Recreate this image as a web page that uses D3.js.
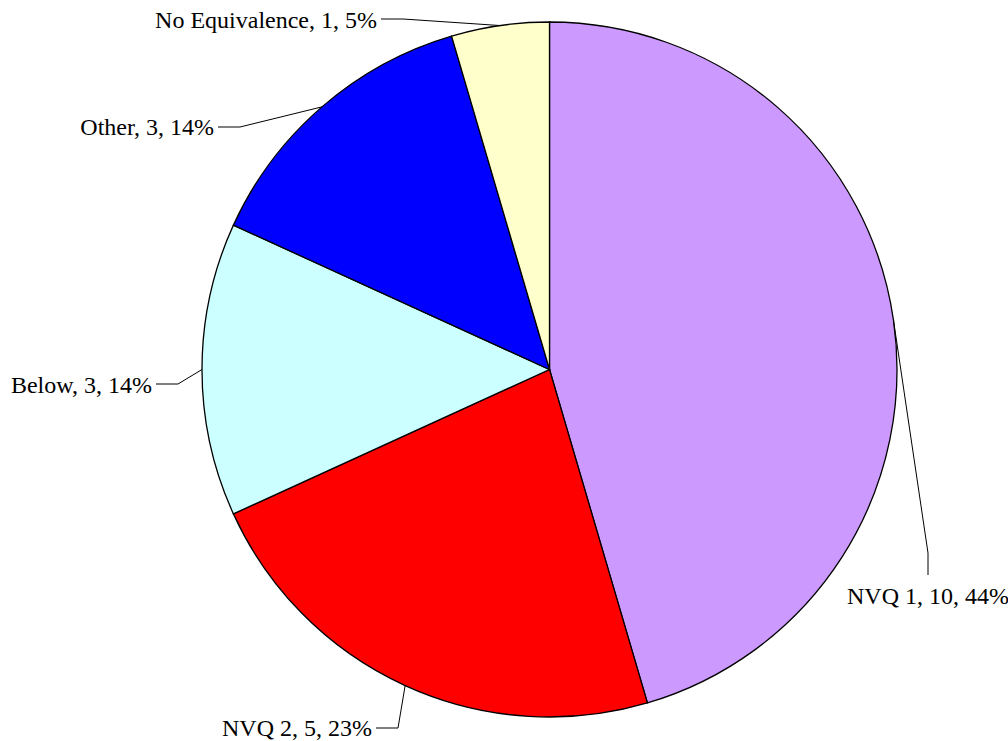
<!DOCTYPE html>
<html>
<head>
<meta charset="utf-8">
<script src="https://cdn.jsdelivr.net/npm/d3@7"></script>
<style>
  body { margin: 0; background: #fff; }
  text { font-family: "Liberation Serif", "Times New Roman", serif; font-size: 24px; fill: #000; }
</style>
</head>
<body>
<script>
const width = 1008;
const height = 741;

// data
const categories = ["NVQ 1", "NVQ 2", "Below", "Other", "No Equivalence"];
const counts = [10, 5, 3, 3, 1];
const percentLabels = ["44%", "23%", "14%", "14%", "5%"];
const colors = ["#cc99ff", "#ff0000", "#ccffff", "#0000ff", "#ffffcc"];

const cx = 549.5, cy = 369.5, radius = 347.5;

// leader line elbows + label anchors (layout only)
const labelLayout = [
  { elbow: [928, 553], end: [928, 575], text: [928, 604], anchor: "middle" },
  { elbow: [398, 728], end: [376, 728], text: [372, 736], anchor: "end" },
  { elbow: [178, 384], end: [156, 384], text: [152, 393], anchor: "end" },
  { elbow: [240, 127], end: [218, 127], text: [214, 135], anchor: "end" },
  { elbow: [403, 19], end: [381, 19], text: [377, 28], anchor: "end" }
];

const rows = categories.map((c, i) => ({ cat: c, val: counts[i], pct: percentLabels[i], color: colors[i], lay: labelLayout[i] }));

const svg = d3.select("body")
  .append("svg")
  .attr("width", width)
  .attr("height", height);

const g = svg.append("g").attr("transform", "translate(" + cx + "," + cy + ")");

const pie = d3.pie().sort(null).value(d => d.val);
const arc = d3.arc().innerRadius(0).outerRadius(radius);
const edgeArc = d3.arc().innerRadius(radius).outerRadius(radius);

const arcs = pie(rows);

g.selectAll("path.slice")
  .data(arcs)
  .enter()
  .append("path")
  .attr("class", "slice")
  .attr("d", arc)
  .attr("fill", d => d.data.color)
  .attr("stroke", "#000")
  .attr("stroke-width", 1.3);

// leader lines
svg.selectAll("polyline.leader")
  .data(arcs)
  .enter()
  .append("polyline")
  .attr("class", "leader")
  .attr("fill", "none")
  .attr("stroke", "#000")
  .attr("stroke-width", 1)
  .attr("points", d => {
    const p = edgeArc.centroid(d);
    const l = d.data.lay;
    return [[p[0] + cx, p[1] + cy], l.elbow, l.end].map(q => q.join(",")).join(" ");
  });

svg.selectAll("text.label")
  .data(arcs)
  .enter()
  .append("text")
  .attr("class", "label")
  .attr("x", d => d.data.lay.text[0])
  .attr("y", d => d.data.lay.text[1])
  .attr("text-anchor", d => d.data.lay.anchor)
  .text(d => d.data.cat + ", " + d.data.val + ", " + d.data.pct);
</script>
</body>
</html>
